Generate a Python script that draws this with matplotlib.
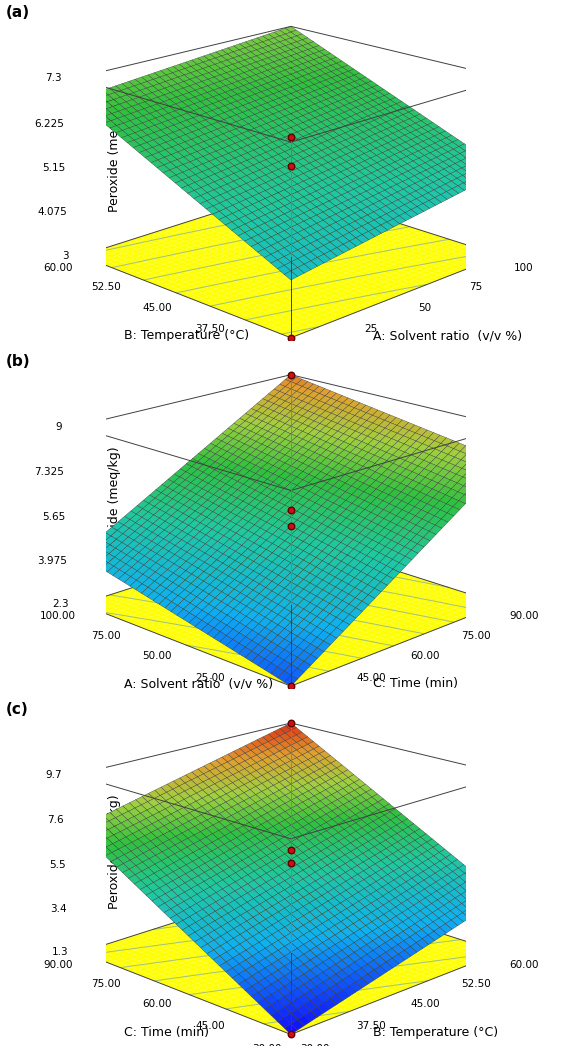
import matplotlib
matplotlib.use("Agg")
import matplotlib.pyplot as plt
import numpy as np
from matplotlib.colors import LinearSegmentedColormap, Normalize

# corner responses: (x_lo,y_lo), (x_hi,y_lo), (x_lo,y_hi), (x_hi,y_hi)
panel_labels = ["(a)", "(b)", "(c)"]
x_names = ["A: Solvent ratio  (v/v %)", "C: Time (min)", "B: Temperature (\u00b0C)"]
y_names = ["B: Temperature (\u00b0C)", "A: Solvent ratio  (v/v %)", "C: Time (min)"]
x_ticks = [[0, 25, 50, 75, 100], [30, 45, 60, 75, 90], [30, 37.5, 45, 52.5, 60]]
y_ticks = [[30, 37.5, 45, 52.5, 60], [0, 25, 50, 75, 100], [30, 45, 60, 75, 90]]
x_fmt = ["{:.0f}", "{:.2f}", "{:.2f}"]
y_fmt = ["{:.2f}", "{:.2f}", "{:.2f}"]
z_ticks = [[3, 4.075, 5.15, 6.225, 7.3], [2.3, 3.975, 5.65, 7.325, 9], [1.3, 3.4, 5.5, 7.6, 9.7]]
z_labels = [["3", "4.075", "5.15", "6.225", "7.3"], ["2.3", "3.975", "5.65", "7.325", "9"],
            ["1.3", "3.4", "5.5", "7.6", "9.7"]]
corners = [[4.3, 5.1, 6.8, 7.3], [2.3, 7.7, 4.2, 9.0], [1.3, 4.0, 7.2, 9.7]]
# design points (x, y, z)
points = [[(0, 60, 6.6), (100, 30, 5.0), (50, 45, 5.9), (50, 45, 5.2), (0, 30, 3.0)],
          [(90, 0, 7.9), (30, 0, 2.3), (60, 50, 5.9), (60, 50, 5.3), (90, 100, 9.0)],
          [(30, 90, 7.2), (60, 30, 4.4), (45, 60, 6.2), (45, 60, 5.6), (30, 30, 1.3), (60, 90, 9.7)]]

cmap = LinearSegmentedColormap.from_list(
    "de", [(0.0, "#1010ff"), (0.25, "#10b0f0"), (0.45, "#20c8a0"), (0.62, "#30c040"),
           (0.75, "#a0d040"), (0.87, "#e0a030"), (1.0, "#e02010")])
norm = Normalize(1.3, 9.7)

fig = plt.figure(figsize=(5.72, 10.46), dpi=100)

for i in range(3):
    ax = fig.add_axes([-0.03, 1 - (i + 1) * 0.333 - 0.005, 1.06, 0.345], projection="3d",
                      computed_zorder=False)
    ax.set_axis_off()
    ax.view_init(elev=18, azim=-135)
    ax.set_box_aspect((1, 1, 0.62), zoom=1.25)
    x0, x1 = x_ticks[i][0], x_ticks[i][-1]
    y0, y1 = y_ticks[i][0], y_ticks[i][-1]
    z0, z1 = z_ticks[i][0], z_ticks[i][-1]
    ax.set_xlim(x0, x1)
    ax.set_ylim(y0, y1)
    ax.set_zlim(z0, z1)

    u = np.linspace(0, 1, 36)
    U, V = np.meshgrid(u, u)
    c = corners[i]
    Z = c[0] * (1 - U) * (1 - V) + c[1] * U * (1 - V) + c[2] * (1 - U) * V + c[3] * U * V
    X = x0 + U * (x1 - x0)
    Y = y0 + V * (y1 - y0)

    # yellow floor with contours
    ax.plot_surface(X, Y, np.full_like(Z, z0), color="#ffff00", shade=False, linewidth=0, zorder=1)
    ax.contour(X, Y, Z, levels=8, offset=z0, colors="#a0c080", linewidths=0.7, zorder=2)
    kw = dict(color="#404040", lw=0.7, zorder=3)
    ax.plot([x0, x1, x1, x0, x0], [y0, y0, y1, y1, y0], [z0] * 5, **kw)
    ax.plot([x1, x1], [y1, y1], [z0, z1], **kw)
    ax.plot_surface(X, Y, Z, facecolors=cmap(norm(Z)), shade=False, zorder=4,
                    edgecolor="#303030", linewidth=0.25, rstride=1, cstride=1)

    # front box edges
    kw["zorder"] = 5
    for xx, yy in [(x0, y1), (x1, y0), (x0, y0)]:
        ax.plot([xx, xx], [yy, yy], [z0, z1], **kw)
    ax.plot([x0, x1, x1, x0, x0], [y0, y0, y1, y1, y0], [z1] * 5, **kw)

    for (px, py, pz) in points[i]:
        ax.plot([px, px], [py, py], [z0, pz], color="#808080", lw=0.6, zorder=6)
        ax.scatter([px], [py], [pz], s=22, color="#d01010", edgecolor="#600000",
                   depthshade=False, zorder=7)

    dx, dy = (x1 - x0), (y1 - y0)
    for t in x_ticks[i]:
        ax.text(t, y0 - 0.1 * dy, z0, x_fmt[i].format(t), fontsize=7.5, ha="center", va="top")
    for t in y_ticks[i]:
        ax.text(x0 - 0.1 * dx, t, z0, y_fmt[i].format(t), fontsize=7.5, ha="center", va="top")
    for t, lab in zip(z_ticks[i], z_labels[i]):
        ax.text(x0 - 0.03 * dx, y1 + 0.03 * dy, t, lab, fontsize=7.5, ha="right", va="center")

    ax.text2D(0.74, 0.04, x_names[i], transform=ax.transAxes, fontsize=9, ha="left")
    ax.text2D(0.05, 0.04, y_names[i], transform=ax.transAxes, fontsize=9, ha="left")
    ax.text2D(0.025, 0.55, "Peroxide (meq/kg)", transform=ax.transAxes, fontsize=9,
              rotation=90, ha="center", va="center")
    fig.text(0.01, 1 - i * 0.333 - 0.005, panel_labels[i], fontsize=11, fontweight="bold", va="top")

fig.savefig("out.png", dpi=100)
